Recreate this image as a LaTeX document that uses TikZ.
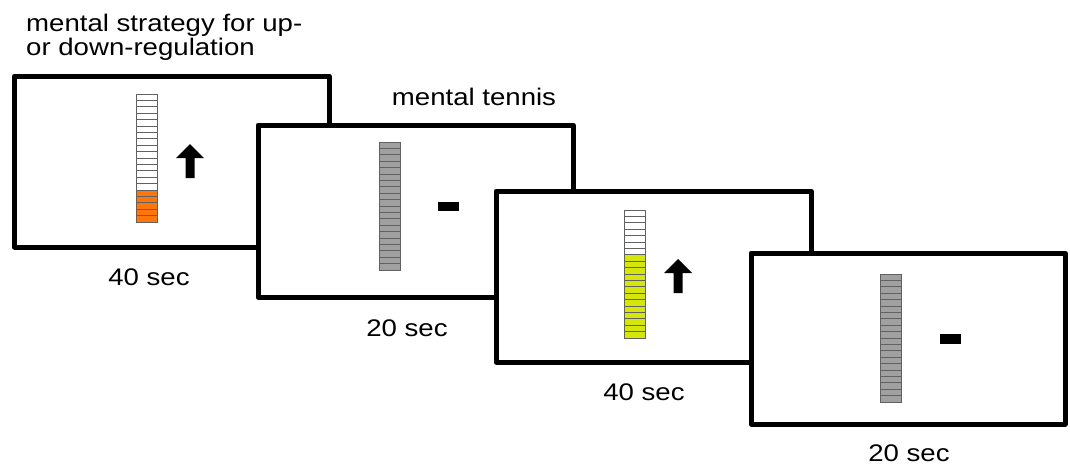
\documentclass[tikz,border=0pt]{standalone}
\usepackage{fontspec}
\setmainfont{Liberation Sans}
\tikzset{
  frame/.style={draw=black, line width=5pt, fill=white, line join=round},
  lbl/.style={inner sep=0pt, font=\fontsize{24}{21.6}\selectfont},
  cellw/.style={draw=black!62, line width=0.8pt},
  arr/.style={fill=black},
}
\definecolor{barorange}{RGB}{255,118,12}
\definecolor{baryellow}{RGB}{212,230,10}
\definecolor{bargray}{RGB}{160,160,160}
\newcommand\mybar[5]{% x, ytop, ncells, nfilled, colour
  \foreach \i in {1,...,#3}{%
    \pgfmathsetmacro\yy{#2+(\i-1)*6.4}%
    \ifnum\i>\numexpr#3-#4\relax\def\fc{#5}\else\def\fc{white}\fi
    \draw[cellw, fill=\fc] (#1,\yy) rectangle ++(21,6.4);
  }%
}
\newcommand\uparr[2]{% x left of head, y tip
  \fill[arr] (#1+14,#2) -- (#1+28,#2+14) -- (#1+18.5,#2+14) -- (#1+18.5,#2+34)
    -- (#1+9.5,#2+34) -- (#1+9.5,#2+14) -- (#1,#2+14) -- cycle;
}
\newcommand\sx[1]{\scalebox{1.15}[1]{#1}}
\begin{document}
\begin{tikzpicture}[x=1pt,y=-1pt]
\useasboundingbox (0,0) rectangle (1070,466);
% titles
\node[lbl, anchor=base west] (title) at (26,31.7)
  {\sx{\begin{tabular}[t]{@{}l@{}}mental strategy for up-\\or down-regulation\end{tabular}}};
\node[lbl, anchor=base] (tennis) at (474,105) {\sx{mental tennis}};
% frame 1
\draw[frame] (14.5,76) rectangle (329,247);
\mybar{136}{94}{20}{5}{barorange}
\uparr{176}{144}
\node[lbl, anchor=base] (t1) at (149,285.7) {\sx{40 sec}};
% frame 2
\draw[frame] (258,125) rectangle (573,297);
\mybar{379}{142}{20}{20}{bargray}
\fill (438,202) rectangle (459,211.3);
\node[lbl, anchor=base] (t2) at (407,336.7) {\sx{20 sec}};
% frame 3
\draw[frame] (496,191) rectangle (811,362);
\mybar{624.3}{210}{20}{13}{baryellow}
\uparr{664}{259}
\node[lbl, anchor=base] (t3) at (644,400.7) {\sx{40 sec}};
% frame 4
\draw[frame] (751,253) rectangle (1065,424);
\mybar{880.7}{274}{20}{20}{bargray}
\fill (940,334) rectangle (960.7,344);
\node[lbl, anchor=base] (t4) at (909,461.7) {\sx{20 sec}};
\end{tikzpicture}
\end{document}
